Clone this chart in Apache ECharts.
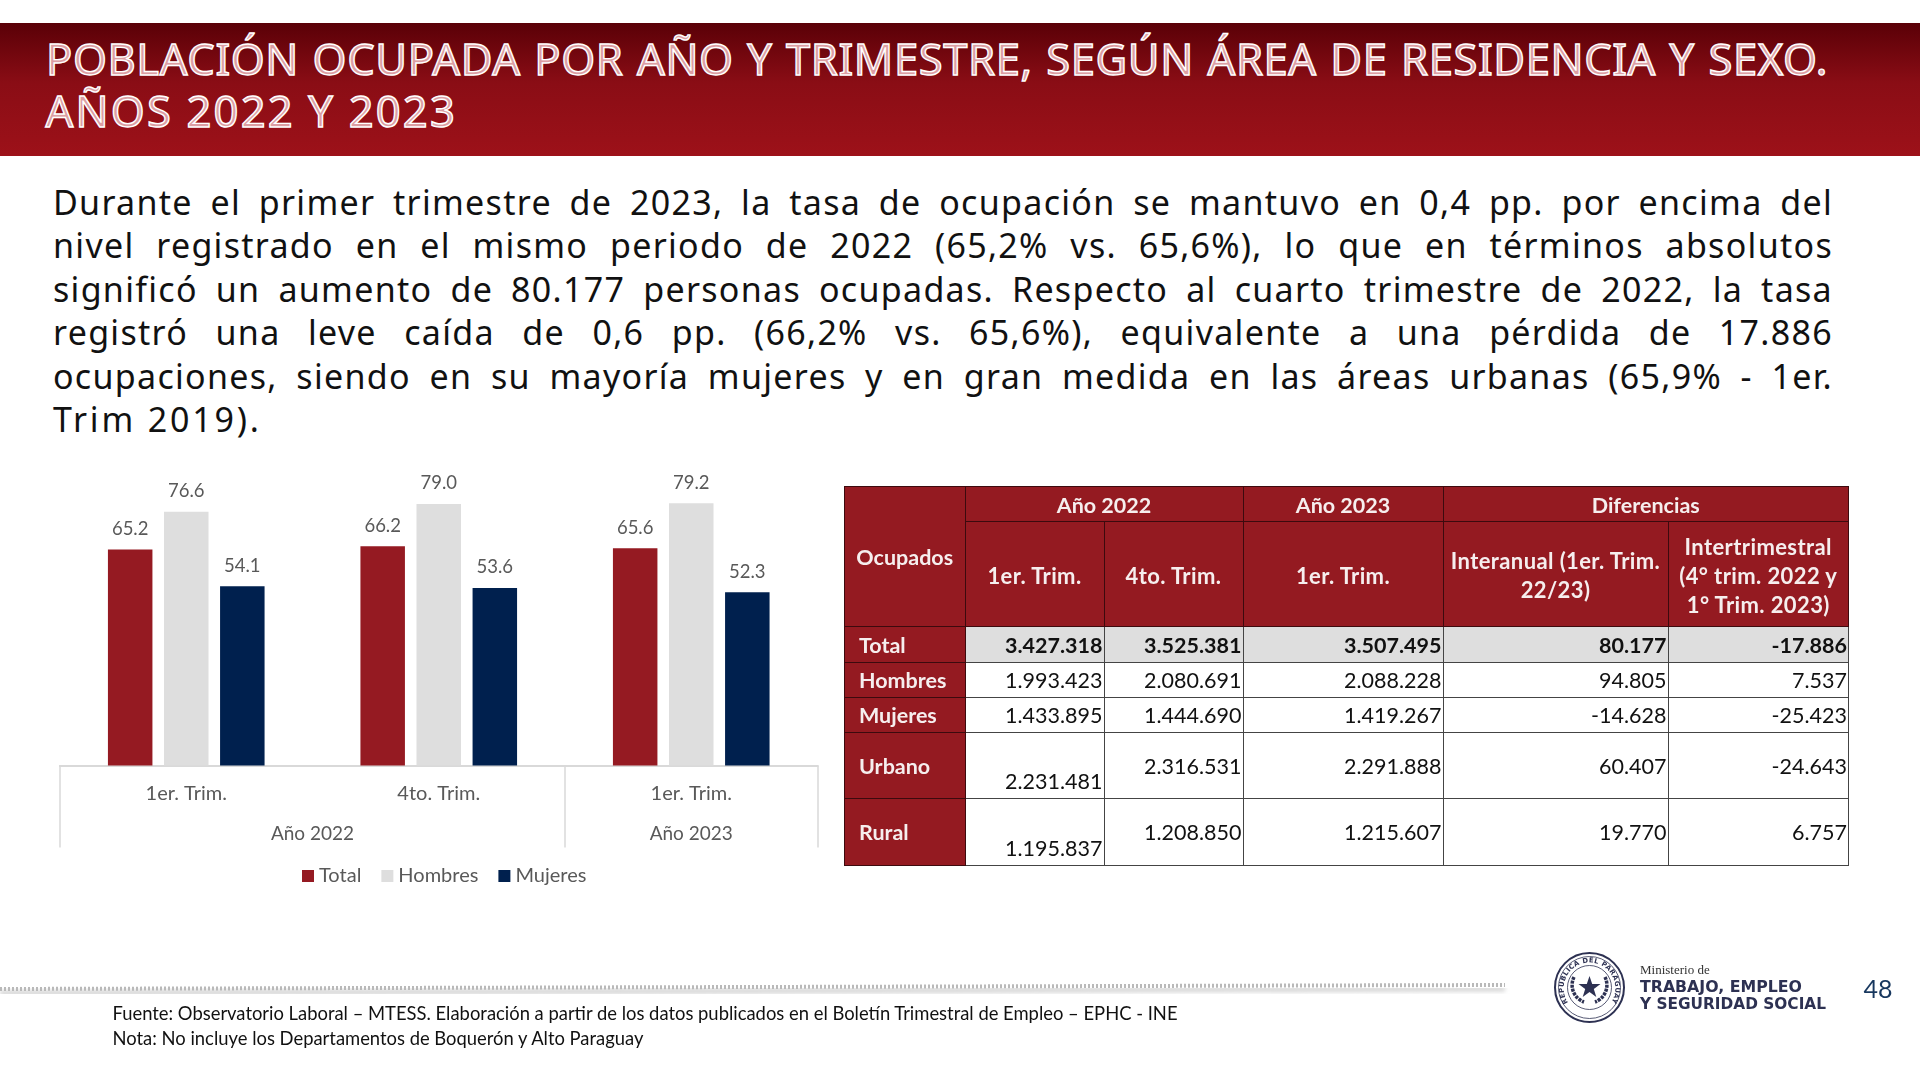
<!DOCTYPE html>
<html lang="es"><head><meta charset="utf-8">
<script src="https://cdn.jsdelivr.net/npm/echarts@6/dist/echarts.min.js"></script>
<style>
html,body{margin:0;padding:0;width:1920px;height:1079px;overflow:hidden;background:#fff;font-family:Lato,sans-serif}
#chart{position:absolute;left:0;top:0;width:1920px;height:1079px}
#band{position:absolute;left:0;top:23px;width:1920px;height:133px;background:linear-gradient(#5a0007,#8a0d15 45%,#9d1119)}
.tl{position:absolute;left:46px;width:1782px;font:400 43.5px/50px "Noto Sans",sans-serif;letter-spacing:.6px;color:#dc9ea3;-webkit-text-stroke:1.4px #fff;white-space:nowrap}
.pl{position:absolute;left:53px;width:1780px;font:400 34px/44px "Noto Sans",sans-serif;letter-spacing:1.3px;color:#111;white-space:nowrap;text-align:justify;text-align-last:justify}
table{position:absolute;left:844px;top:486px;width:1004.5px;border-collapse:collapse;table-layout:fixed;font-size:21.5px;color:#111}
td,th{padding:2px 1px 0;border:1.5px solid #444;box-sizing:border-box;text-align:right;overflow:hidden;line-height:29px}
th{background:#941a21;color:#f6eeee;font-weight:700;text-align:center;border-color:#3d0a0e}
th.sub{font-size:22px;letter-spacing:.4px}
td.lab{background:#941a21;color:#f6eeee;font-weight:700;text-align:left;padding-left:14px;border-color:#3d0a0e}
tr.tot td:not(.lab){background:#dedede;font-weight:700}
td.low{vertical-align:bottom;padding-bottom:2px}
.foot{position:absolute;left:112.5px;font:400 18.4px/24px Lato,sans-serif;color:#111;white-space:nowrap}
#num{position:absolute;left:1863.5px;top:970px;font:400 25px/36px Lato,sans-serif;color:#17375e}
svg{position:absolute;left:0;top:0}
</style></head><body>
<div id="band"></div>
<div id="titleBox"></div>
<div id="paraBox"></div>
<div id="chart"></div>
<table id="tbl"></table>
<svg width="1920" height="1079" style="pointer-events:none">
<defs><filter id="bl"><feGaussianBlur stdDeviation="2"/></filter>
<path id="arcT" d="M1568 1002.5A25.8 25.8 0 1 1 1611 1002.5"/></defs>
<line x1="0" y1="993" x2="1505" y2="989" stroke="#d4d4d4" stroke-width="5" filter="url(#bl)"/>
<line x1="0" y1="989" x2="1505" y2="985" stroke="#b9b9b9" stroke-width="4" stroke-dasharray="2 2"/>
<g fill="none" stroke="#2d3152">
<circle cx="1589.5" cy="987.5" r="34.5" stroke-width="2"/>
<circle cx="1589.5" cy="987.5" r="31" stroke-width=".8"/>
<circle cx="1589.5" cy="987.5" r="22" stroke-width=".8"/>
<path d="M1574 977a18 18 0 0 0 10 25M1605 977a18 18 0 0 1 -10 25" stroke-width="3.5" stroke-dasharray="3 1"/>
</g>
<polygon points="1589.5,976 1592.2,984 1600.5,984 1593.8,989 1596.3,997 1589.5,992 1582.7,997 1585.2,989 1578.5,984 1586.8,984" fill="#2d3152"/>
<text font-family="DejaVu Sans" font-size="6.8" font-weight="700" fill="#2d3152" letter-spacing=".35"><textPath href="#arcT">REPUBLICA DEL PARAGUAY</textPath></text>
<text x="1640" y="974" font-family="Liberation Serif" font-size="13" fill="#333">Ministerio de</text>
<text x="1640" y="991.5" font-family="DejaVu Sans" font-weight="700" font-size="16.5" fill="#2d3152" textLength="162" lengthAdjust="spacingAndGlyphs">TRABAJO, EMPLEO</text>
<text x="1640" y="1008.5" font-family="DejaVu Sans" font-weight="700" font-size="16.5" fill="#2d3152" textLength="186" lengthAdjust="spacingAndGlyphs">Y SEGURIDAD SOCIAL</text>
</svg>
<div class="foot" id="f0" style="top:1001px"></div>
<div class="foot" id="f1" style="top:1025.5px"></div>
<div id="num"></div>
<script>
const titleLines=["POBLACIÓN OCUPADA POR AÑO Y TRIMESTRE, SEGÚN ÁREA DE RESIDENCIA Y SEXO.","AÑOS 2022 Y 2023"];
const paragraphLines=[
"Durante el primer trimestre de 2023, la tasa de ocupación se mantuvo en 0,4 pp. por encima del",
"nivel registrado en el mismo periodo de 2022 (65,2% vs. 65,6%), lo que en términos absolutos",
"significó un aumento de 80.177 personas ocupadas. Respecto al cuarto trimestre de 2022, la tasa",
"registró una leve caída de 0,6 pp. (66,2% vs. 65,6%), equivalente a una pérdida de 17.886",
"ocupaciones, siendo en su mayoría mujeres y en gran medida en las áreas urbanas (65,9% - 1er.",
"Trim 2019)."];
const footnotes=["Fuente: Observatorio Laboral – MTESS. Elaboración a partir de los datos publicados en el Boletín Trimestral de Empleo – EPHC - INE","Nota: No incluye los Departamentos de Boquerón y Alto Paraguay"];
const pageNumber="48";

const categories=["1er. Trim.","4to. Trim.","1er. Trim."];
const years=["Año 2022","Año 2023"];
const yearSpans=[2,1];
const seriesNames=["Total","Hombres","Mujeres"];
const seriesTotal=[65.2,66.2,65.6];
const seriesHombres=[76.6,79.0,79.2];
const seriesMujeres=[54.1,53.6,52.3];

const tableRowNames=["Total","Hombres","Mujeres","Urbano","Rural"];
const col1erTrim22=["3.427.318","1.993.423","1.433.895","2.231.481","1.195.837"];
const col4toTrim22=["3.525.381","2.080.691","1.444.690","2.316.531","1.208.850"];
const col1erTrim23=["3.507.495","2.088.228","1.419.267","2.291.888","1.215.607"];
const colInteranual=["80.177","94.805","-14.628","60.407","19.770"];
const colIntertrim=["-17.886","7.537","-25.423","-24.643","6.757"];

// page text
titleLines.forEach((t,i)=>{const d=document.createElement('div');d.className='tl';d.textContent=t;d.style.top=(33+i*52)+'px';
  if(i==1){d.style.letterSpacing='2.2px';d.style.left='45.5px';}else{d.style.textAlign='justify';d.style.textAlignLast='justify';}
  document.getElementById('titleBox').appendChild(d);});
paragraphLines.forEach((t,i)=>{const d=document.createElement('div');d.className='pl';d.textContent=t;d.style.top=(180+i*43.4)+'px';if(i==paragraphLines.length-1){d.style.textAlignLast='left';d.style.letterSpacing='2.8px';}document.getElementById('paraBox').appendChild(d);});
footnotes.forEach((t,i)=>document.getElementById('f'+i).textContent=t);
document.getElementById('num').textContent=pageNumber;

// table
const colW=[120.5,139,139,200,225,180.5];
const rowH=[35.5,35,35,66.5,66.5];
let h='<colgroup>'+colW.map(w=>`<col style="width:${w}px">`).join('')+'</colgroup>';
h+=`<tr style="height:35px"><th rowspan="2" style="padding-top:2px">Ocupados</th><th colspan="2">Año 2022</th><th>Año 2023</th><th colspan="2">Diferencias</th></tr>`;
h+=`<tr style="height:105px"><th class="sub">1er. Trim.</th><th class="sub">4to. Trim.</th><th class="sub">1er. Trim.</th><th class="sub">Interanual (1er. Trim. 22/23)</th><th class="sub">Intertrimestral<br>(4° trim. 2022 y<br>1° Trim. 2023)</th></tr>`;
tableRowNames.forEach((n,i)=>{
  const low=i>=3?' class="low"':'';
  h+=`<tr class="${i==0?'tot':''}" style="height:${rowH[i]}px"><td class="lab">${n}</td><td${low}>${col1erTrim22[i]}</td><td>${col4toTrim22[i]}</td><td>${col1erTrim23[i]}</td><td>${colInteranual[i]}</td><td>${colIntertrim[i]}</td></tr>`;
});
document.getElementById('tbl').innerHTML=h;

// chart
const colors=["#951a22","#dedede","#00204e"];
const axisGray="#d9d9d9", textGray="#595959";
const total=yearSpans.reduce((a,b)=>a+b,0);
let acc=0; const bounds=[0], centers=[];
yearSpans.forEach(s=>{centers.push(acc+s/2);acc+=s;bounds.push(acc);});
const chart=echarts.init(document.getElementById('chart'));
const seriesData=[seriesTotal,seriesHombres,seriesMujeres];
chart.setOption({
  animation:false,
  textStyle:{fontFamily:'Lato'},
  legend:{left:297,top:861,itemWidth:12,itemHeight:12,itemGap:20,icon:'rect',
    textStyle:{fontSize:20,color:textGray,padding:[0,0,0,0]},data:seriesNames},
  grid:{left:60,width:757.5,bottom:1079-765.5,top:467.5,containLabel:false},
  yAxis:{type:'value',min:0,max:90,show:false},
  xAxis:[
    {type:'category',data:categories,position:'bottom',axisLine:{lineStyle:{color:axisGray,width:2}},
     axisTick:{show:false},axisLabel:{fontSize:20,color:textGray,margin:18,interval:0}},
    {type:'value',min:0,max:total,position:'bottom',splitLine:{show:false},
     axisLine:{show:true,lineStyle:{color:axisGray,width:2}},
     axisTick:{show:true,length:82,customValues:bounds,lineStyle:{color:axisGray,width:1.5}},
     axisLabel:{show:true,customValues:centers,fontSize:19,color:textGray,margin:59,
       formatter:v=>years[centers.indexOf(v)]}}
  ],
  series:seriesNames.map((n,i)=>({name:n,type:'bar',xAxisIndex:0,data:seriesData[i],barWidth:44.5,barGap:'26%',
    itemStyle:{color:colors[i]},
    label:{show:true,position:'top',distance:11,fontSize:18.5,color:textGray,formatter:p=>p.value.toFixed(1)}}))
});
</script>
</body></html>
